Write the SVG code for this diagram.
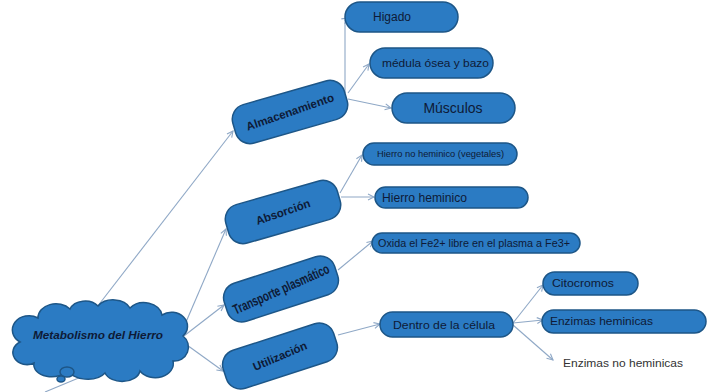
<svg xmlns="http://www.w3.org/2000/svg" width="707" height="392" viewBox="0 0 707 392">
<style>
.node{fill:#2b7bc3;stroke:#1d5687;stroke-width:1.5}
.lbl{font-family:"Liberation Sans",Arial,sans-serif;fill:#0e1a36}
.b{font-weight:bold}
.conn{stroke:#8fa8c6;stroke-width:1.1;fill:none;marker-end:url(#arr)}
</style>
<defs>
<marker id="arr" markerWidth="8" markerHeight="8" refX="7" refY="4" orient="auto" markerUnits="userSpaceOnUse">
<path d="M1,1 L7,4 L1,7" fill="none" stroke="#8fa8c6" stroke-width="1.1"/>
</marker>
</defs>
<rect width="707" height="392" fill="#ffffff"/>
<g id="connectors">
<line x1="45" y1="392" x2="93" y2="372" stroke="#8fa8c6" stroke-width="1.1"/>
<line class="conn" x1="97" y1="307" x2="233" y2="131"/>
<line class="conn" x1="180" y1="336" x2="226" y2="229"/>
<line class="conn" x1="180" y1="339" x2="224" y2="305"/>
<line class="conn" x1="180" y1="340" x2="223" y2="371"/>
<polyline class="conn" points="345,93 345,20 348,18"/>
<line class="conn" x1="348" y1="93" x2="369" y2="64"/>
<line class="conn" x1="348" y1="99" x2="391" y2="108"/>
<line class="conn" x1="340" y1="193" x2="362" y2="155"/>
<line class="conn" x1="341" y1="197" x2="374" y2="197"/>
<line class="conn" x1="338" y1="270" x2="373" y2="241"/>
<line class="conn" x1="338" y1="335" x2="380" y2="324"/>
<line class="conn" x1="513" y1="323" x2="543" y2="285"/>
<line class="conn" x1="513" y1="323" x2="543" y2="320"/>
<line class="conn" x1="513" y1="325" x2="553" y2="360"/>
</g>
<g id="metabolismo">
<path class="node" d="M20,342 A14,12 0 0 1 38,318 A18,14 0 0 1 70,309 A16,12 0 0 1 98,306 A18,13 0 0 1 130,308 A18,14 0 0 1 162,315 A16,14 0 0 1 183,336 A14,14 0 0 1 173,361 A18,14 0 0 1 140,371 A18,12 0 0 1 105,373 A20,12 0 0 1 68,370 A18,12 0 0 1 34,363 A14,12 0 0 1 20,342 Z"/>
<ellipse class="node" cx="67" cy="372" rx="7" ry="5"/>
<ellipse class="node" cx="61" cy="379" rx="4" ry="3"/>
<text class="lbl b" x="98" y="339" font-size="11" font-style="italic" text-anchor="middle" textLength="130" lengthAdjust="spacingAndGlyphs">Metabolismo  del Hierro</text>
</g>
<g id="almacenamiento" transform="translate(290,112) rotate(-16)">
<rect class="node" x="-58" y="-20" width="116" height="40" rx="15"/>
<text class="lbl b" x="0" y="4" font-size="11.5" text-anchor="middle" transform="rotate(-3)">Almacenamiento</text>
</g>
<g id="absorcion" transform="translate(283,212) rotate(-16)">
<rect class="node" x="-58" y="-20" width="116" height="40" rx="15"/>
<text class="lbl b" x="0" y="4" font-size="11.5" text-anchor="middle" transform="rotate(-3)">Absorción</text>
</g>
<g id="transporte" transform="translate(281,289) rotate(-18)">
<rect class="node" x="-58" y="-20" width="116" height="40" rx="15"/>
<text class="lbl b" x="0" y="5" font-size="14" text-anchor="middle" transform="rotate(-6)" textLength="104" lengthAdjust="spacingAndGlyphs">Transporte plasmático</text>
</g>
<g id="utilizacion" transform="translate(280,356) rotate(-18)">
<rect class="node" x="-58" y="-20" width="116" height="40" rx="15"/>
<text class="lbl b" x="0" y="4" font-size="11.5" text-anchor="middle" transform="rotate(-5)">Utilización</text>
</g>
<g id="higado">
<rect class="node" x="345" y="2" width="113" height="30" rx="15"/>
<text class="lbl" x="373" y="21" font-size="12">Higado</text>
</g>
<g id="medula">
<rect class="node" x="370" y="48" width="123" height="30" rx="15"/>
<text class="lbl" x="382" y="67" font-size="11.5" textLength="107" lengthAdjust="spacingAndGlyphs">médula ósea y bazo</text>
</g>
<g id="musculos">
<rect class="node" x="392" y="93" width="123" height="30" rx="15"/>
<text class="lbl" x="453" y="113" font-size="14" text-anchor="middle">Músculos</text>
</g>
<g id="hierro-no-hemnico">
<rect class="node" x="363" y="143" width="154" height="22" rx="11"/>
<text class="lbl" x="377" y="157" font-size="9" textLength="127" lengthAdjust="spacingAndGlyphs">Hierro no heminico (vegetales)</text>
</g>
<g id="hierro-heminico">
<rect class="node" x="375" y="187" width="153" height="21" rx="10.5"/>
<text class="lbl" x="382" y="201.5" font-size="12" textLength="85" lengthAdjust="spacingAndGlyphs">Hierro heminico</text>
</g>
<g id="oxida">
<rect class="node" x="372" y="233" width="208" height="20" rx="10"/>
<text class="lbl" x="378" y="247" font-size="10" textLength="192" lengthAdjust="spacingAndGlyphs">Oxida el Fe2+ libre en el plasma a Fe3+</text>
</g>
<g id="dentro">
<rect class="node" x="380" y="312" width="133" height="25" rx="12.5"/>
<text class="lbl" x="393" y="328.5" font-size="11.5" textLength="102" lengthAdjust="spacingAndGlyphs">Dentro de la célula</text>
</g>
<g id="citocromos">
<rect class="node" x="543" y="272" width="95" height="23" rx="11.5"/>
<text class="lbl" x="552" y="287" font-size="11" textLength="62" lengthAdjust="spacingAndGlyphs">Citocromos</text>
</g>
<g id="enzimas-heminicas">
<rect class="node" x="542" y="310" width="164" height="23" rx="11.5"/>
<text class="lbl" x="550" y="325" font-size="11.5" textLength="103" lengthAdjust="spacingAndGlyphs">Enzimas heminicas</text>
</g>
<g id="enzimas-no-heminicas">
<text x="563" y="367" font-size="11.5" font-family="Liberation Sans, Arial, sans-serif" fill="#333333" textLength="120" lengthAdjust="spacingAndGlyphs">Enzimas no heminicas</text>
</g>
</svg>
